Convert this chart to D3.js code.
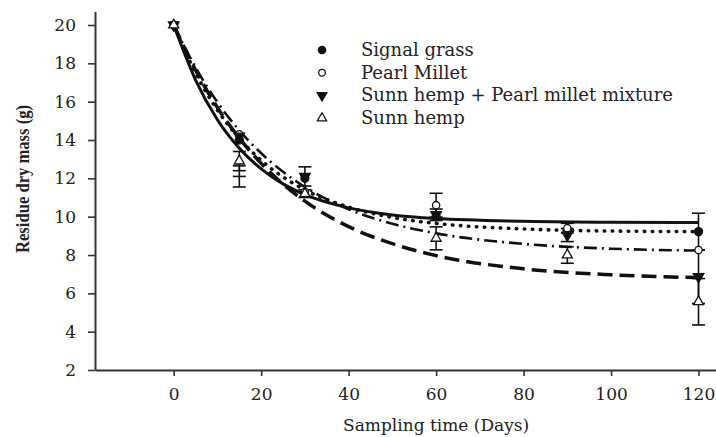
<!DOCTYPE html>
<html>
<head>
<meta charset="utf-8">
<script src="https://cdn.jsdelivr.net/npm/d3@7"></script>
<style>
  body { margin: 0; background: #fff; }
  svg { display: block; font-family: "DejaVu Serif", "Liberation Serif", serif; }
</style>
</head>
<body>
<svg id="chart" width="716" height="437"></svg>
<script>
const days = [0, 15, 30, 60, 90, 120]
const signalGrass = [20, 14.0, 12.0, 10.0, 9.3, 9.22]
const signalGrassErr = [0, 0, 0, 0, 0, 0.96]
const pearlMillet = [20, 14.3, 11.3, 10.6, 9.4, 8.26]
const pearlMilletErr = [0, 0, 0, 0.62, 0.25, 0]
const mixture = [20, 14.2, 12.1, 10.1, 9.04, 6.87]
const mixtureErr = [0, 0, 0.5, 0.3, 0.34, 1.4]
const sunnHemp = [20, 12.9, 11.2, 8.87, 8.0, 5.56]
const sunnHempErr = [0, 0.5, 0.2, 0.6, 0.43, 1.21]
// second bar seen below the day-15 triangle
const extraBarDay = 15
const extraBarMid = 12.1
const extraBarErr = 0.55

// fitted curves, values
const fitDays = [0, 5, 10, 15, 20, 25, 30, 40, 50, 60, 80, 100, 120]
const fitSolid = [20, 17.13, 15.06, 13.57, 12.49, 11.71, 11.15, 10.46, 10.09, 9.90, 9.76, 9.71, 9.70]
const fitDotted = [20, 17.49, 15.56, 14.08, 12.94, 12.07, 11.40, 10.50, 9.96, 9.65, 9.36, 9.25, 9.22]
const fitDashDot = [20, 17.78, 15.97, 14.50, 13.31, 12.34, 11.55, 10.39, 9.63, 9.13, 8.58, 8.33, 8.23]
const fitLongDash = [20, 17.64, 15.69, 14.10, 12.78, 11.70, 10.81, 9.48, 8.59, 7.97, 7.28, 6.97, 6.82]

const seriesNames = ['Signal grass', 'Pearl Millet', 'Sunn hemp + Pearl millet mixture', 'Sunn hemp']
const xTicks = [0, 20, 40, 60, 80, 100, 120]
const yTicks = [2, 4, 6, 8, 10, 12, 14, 16, 18, 20]

const svg = d3.select('#chart')
const ink = '#111'

const x = d3.scaleLinear().domain([-18, 124]).range([95, 716])
const y = d3.scaleLinear().domain([2, 20.7]).range([370, 11.6])

// axes
const xAxis = svg.append('g')
    .attr('transform', `translate(0, ${y(2)})`)
    .call(d3.axisBottom(x).tickValues(xTicks).tickSize(6).tickSizeOuter(0).tickPadding(12))
const yAxis = svg.append('g')
    .attr('transform', `translate(${x(-18)}, 0)`)
    .call(d3.axisLeft(y).tickValues(yTicks).tickSize(7).tickSizeOuter(0).tickPadding(12))

;[xAxis, yAxis].forEach(g => {
    g.select('.domain').attr('stroke', '#333').attr('stroke-width', 2)
    g.selectAll('.tick line').attr('stroke', '#333').attr('stroke-width', 1.6)
    g.selectAll('.tick text')
        .attr('fill', '#222')
        .style('font-size', '17px')
        .style('font-family', '"DejaVu Serif", serif')
})

// axis titles
svg.append('text')
    .attr('x', x(60))
    .attr('y', 431)
    .attr('text-anchor', 'middle')
    .attr('fill', '#222')
    .style('font-size', '17px')
    .text('Sampling time (Days)')

svg.append('text')
    .attr('transform', 'translate(29, 179) rotate(-90)')
    .attr('text-anchor', 'middle')
    .attr('fill', '#222')
    .attr('textLength', 148)
    .attr('lengthAdjust', 'spacingAndGlyphs')
    .style('font-size', '18px')
    .style('font-weight', 'bold')
    .style('font-family', '"Liberation Serif", serif')
    .text('Residue dry mass (g)')

// error bars
const series = [
    { values: signalGrass, err: signalGrassErr, symbol: d3.symbolCircle, fill: ink, rotate: 0, size: 50 },
    { values: pearlMillet, err: pearlMilletErr, symbol: d3.symbolCircle, fill: '#fff', rotate: 0, size: 42 },
    { values: mixture, err: mixtureErr, symbol: d3.symbolTriangle, fill: ink, rotate: 180, size: 48 },
    { values: sunnHemp, err: sunnHempErr, symbol: d3.symbolTriangle, fill: '#fff', rotate: 0, size: 44 }
]

const bars = svg.append('g').attr('stroke', ink).attr('stroke-width', 1.6)
const drawBar = (d, v, e) => {
    bars.append('line')
        .attr('x1', x(d)).attr('x2', x(d))
        .attr('y1', y(v + e)).attr('y2', y(v - e))
    ;[v + e, v - e].forEach(c => {
        bars.append('line')
            .attr('x1', x(d) - 6.5).attr('x2', x(d) + 6.5)
            .attr('y1', y(c)).attr('y2', y(c))
    })
}
series.forEach(s => {
    days.forEach((d, i) => {
        if (s.err[i] > 0) drawBar(d, s.values[i], s.err[i])
    })
})
drawBar(extraBarDay, extraBarMid, extraBarErr)
bars.append('line')
    .attr('x1', x(extraBarDay) - 6.5).attr('x2', x(extraBarDay) + 6.5)
    .attr('y1', y(extraBarMid)).attr('y2', y(extraBarMid))

// fitted decay curves
const line = d3.line()
    .x((d, i) => x(fitDays[i]))
    .y(d => y(d))
    .curve(d3.curveMonotoneX)

const fits = [
    { values: fitLongDash, dash: '15,7', width: 3.5, cap: 'butt' },
    { values: fitDashDot, dash: '13,5,2,5', width: 2.6, cap: 'butt' },
    { values: fitDotted, dash: '0.5,7.5', width: 3.6, cap: 'round' },
    { values: fitSolid, dash: null, width: 3, cap: 'butt' }
]

svg.append('g').selectAll('path')
    .data(fits)
    .enter()
    .append('path')
    .attr('d', f => line(f.values))
    .attr('fill', 'none')
    .attr('stroke', ink)
    .attr('stroke-width', f => f.width)
    .attr('stroke-linecap', f => f.cap)
    .attr('stroke-dasharray', f => f.dash)

// point markers
const marks = svg.append('g')
series.forEach(s => {
    marks.selectAll(null)
        .data(days.map((d, i) => ({ d, v: s.values[i] })))
        .enter()
        .append('path')
        .attr('d', d3.symbol(s.symbol, s.size))
        .attr('transform', p => `translate(${x(p.d)}, ${y(p.v)}) rotate(${s.rotate})`)
        .attr('fill', s.fill)
        .attr('stroke', ink)
        .attr('stroke-width', 1.3)
})

// legend
const legend = svg.append('g').attr('class', 'legend')
const lg = legend.selectAll('g')
    .data(series)
    .enter()
    .append('g')
    .attr('transform', (d, i) => `translate(322, ${50 + i * 22.7})`)

lg.append('path')
    .attr('d', s => d3.symbol(s.symbol, s.size * 0.85)())
    .attr('transform', s => `rotate(${s.rotate})`)
    .attr('fill', s => s.fill)
    .attr('stroke', ink)
    .attr('stroke-width', 1.3)

lg.append('text')
    .text((d, i) => seriesNames[i])
    .attr('x', 39)
    .attr('y', 6)
    .attr('fill', '#222')
    .style('font-size', '18px')
</script>
</body>
</html>
